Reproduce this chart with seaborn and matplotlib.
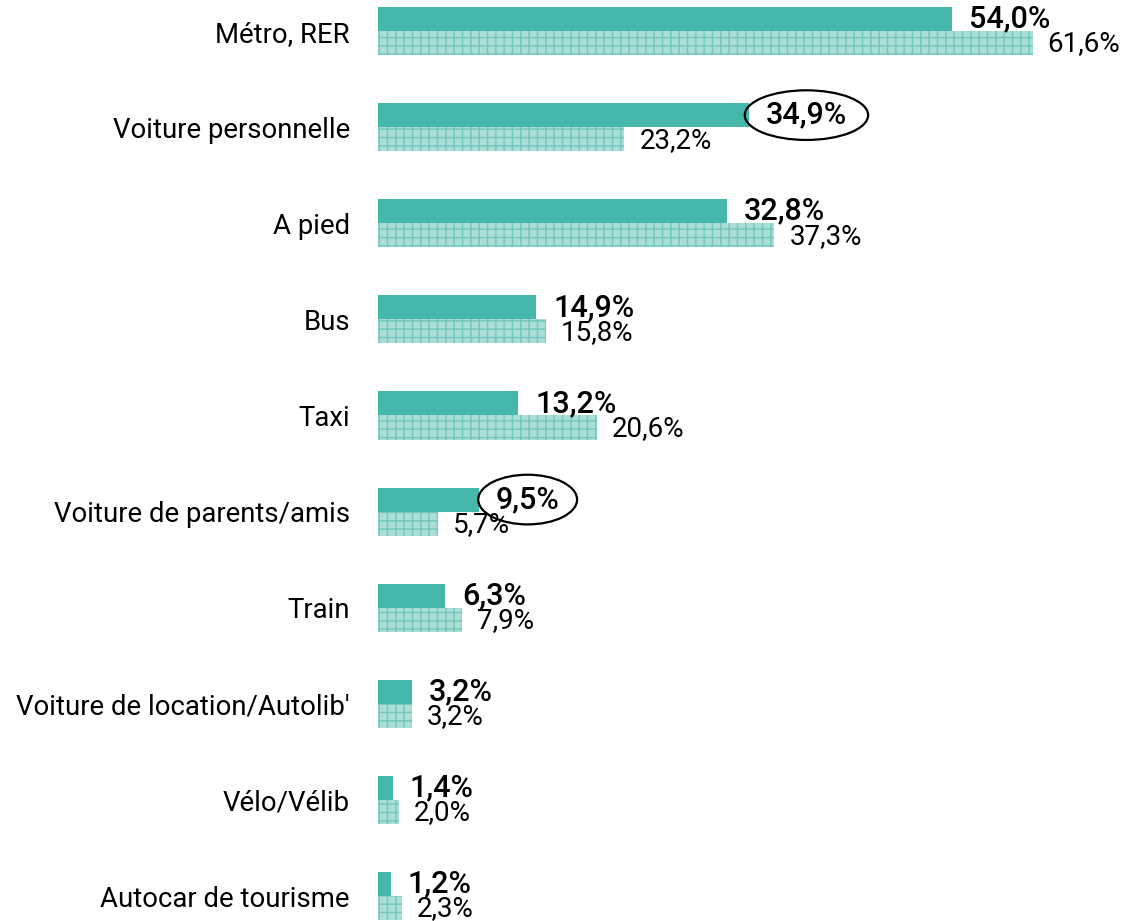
import pandas as pd
import matplotlib.pyplot as plt
import seaborn as sns

# modes de transport et parts (%)
modes = ['Métro, RER', 'Voiture personnelle', 'A pied', 'Bus', 'Taxi',
         'Voiture de parents/amis', 'Train', "Voiture de location/Autolib'",
         'Vélo/Vélib', 'Autocar de tourisme']
serie_a = [54.0, 34.9, 32.8, 14.9, 13.2, 9.5, 6.3, 3.2, 1.4, 1.2]
serie_b = [61.6, 23.2, 37.3, 15.8, 20.6, 5.7, 7.9, 3.2, 2.0, 2.3]
entoures = ['Voiture personnelle', 'Voiture de parents/amis']

df = pd.DataFrame({
    'mode': modes * 2,
    'part': serie_a + serie_b,
    'serie': ['A'] * len(modes) + ['B'] * len(modes),
})

sns.set_style('white')
plt.rcParams['font.family'] = ['Roboto', 'DejaVu Sans']
plt.rcParams['hatch.linewidth'] = 1.0

fig = plt.figure(figsize=(11.21, 9.21), dpi=100)
ax = fig.add_axes([0.337, 0.0, 0.663, 1.0])

sns.barplot(data=df, x='part', y='mode', hue='serie', orient='h',
            palette=['#45b8ac', '#a9ddd6'], width=0.5, legend=False,
            saturation=1, ax=ax)

# second series: light fill with teal grid
for bar in ax.containers[1]:
    bar.set_facecolor('#abded7')
    bar.set_edgecolor('#72c6bb')
    bar.set_hatch('++')
    bar.set_linewidth(0)
for bar in ax.containers[0]:
    bar.set_linewidth(0)

def fmt(v):
    return f'{v:.1f}'.replace('.', ',') + '%'

for i, bar in enumerate(ax.containers[0]):
    y = bar.get_y() + bar.get_height() / 2
    kw = {}
    if modes[i] in entoures:
        kw['bbox'] = dict(boxstyle='ellipse,pad=0.1', fc='none', ec='black', lw=1.6)
    ax.text(bar.get_width() + 1.6, y, fmt(serie_a[i]), va='center', ha='left',
            fontsize=22, fontweight='medium', color='black', **kw)
for i, bar in enumerate(ax.containers[1]):
    y = bar.get_y() + bar.get_height() / 2
    ax.text(bar.get_width() + 1.4, y + 0.01, fmt(serie_b[i]), va='center', ha='left',
            fontsize=20, color='black')

ax.set_xlim(0, 69.9)
ax.set_ylim(9.26, -0.323)
ax.set_xlabel('')
ax.set_ylabel('')
ax.set_xticks([])
ax.tick_params(axis='y', length=0, pad=20, labelsize=19.8, labelcolor='black')
sns.despine(ax=ax, left=True, bottom=True)

plt.savefig('out.png', dpi=100)
